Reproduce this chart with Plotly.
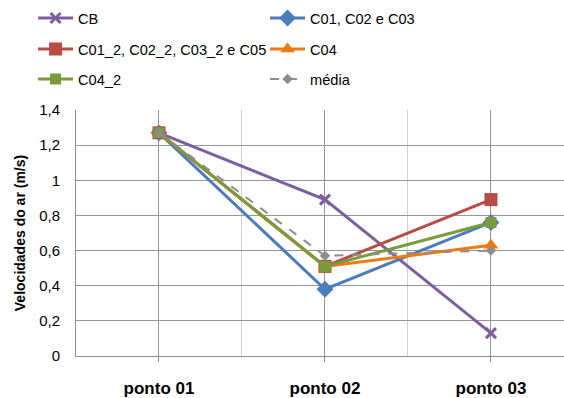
import plotly.graph_objects as go

categories = ["ponto 01", "ponto 02", "ponto 03"]
series_names = ["CB", "C01, C02 e C03", "C01_2, C02_2, C03_2 e C05", "C04", "C04_2", "média"]
cb = [1.27, 0.89, 0.13]
c01 = [1.27, 0.38, 0.76]
c01_2 = [1.27, 0.51, 0.89]
c04 = [1.27, 0.51, 0.63]
c04_2 = [1.27, 0.51, 0.76]
media = [1.27, 0.57, 0.60]
y_ticks = [0, 0.2, 0.4, 0.6, 0.8, 1.0, 1.2, 1.4]

values = [cb, c01, c01_2, c04, c04_2, media]
colors = ["#7D5FA0", "#4A7DBA", "#B94B47", "#F07A12", "#7A9A3C", "#8C8C8C"]
symbols = ["x-thin", "diamond", "square", "triangle-up", "square", "diamond"]
sizes = [10, 13, 13, 13, 11, 8]
dashes = ["solid", "solid", "solid", "solid", "solid", "dash"]
widths = [3, 3, 3, 3, 3, 2]
legends = ["legend", "legend", "legend2", "legend2", "legend3", "legend3"]

xs = list(range(len(categories)))
fig = go.Figure()
for name, vals, col, sym, sz, dsh, w, lg in zip(series_names, values, colors, symbols,
                                                 sizes, dashes, widths, legends):
    mk = dict(symbol=sym, size=sz, color=col)
    if sym == "x-thin":
        mk["line"] = dict(color=col, width=3)
    fig.add_trace(go.Scatter(
        x=xs, y=vals, name=name, mode="lines+markers",
        line=dict(color=col, width=w, dash=dsh),
        marker=mk, legend=lg,
    ))

font_main = "Liberation Sans, Arial, sans-serif"
leg_common = dict(orientation="h", entrywidth=182, entrywidthmode="pixels",
                  x=-0.088, xanchor="left", yanchor="middle", itemwidth=35,
                  font=dict(family=font_main, size=14.6, color="#000000"),
                  bgcolor="rgba(0,0,0,0)", traceorder="normal")

fig.update_layout(
    width=564, height=398,
    margin=dict(l=76, r=0, t=110, b=42),
    paper_bgcolor="white", plot_bgcolor="white",
    separators=", ",
    font=dict(family=font_main, color="#000000"),
    legend=dict(y=1.374, **leg_common),
    legend2=dict(y=1.248, **leg_common),
    legend3=dict(y=1.126, **leg_common),
    xaxis=dict(
        range=[-0.5, 2.44], tickvals=xs, ticktext=categories,
        showgrid=True, gridcolor="#959595", gridwidth=1,
        minor=dict(tickvals=[0.5, 1.5], showgrid=True, gridcolor="#d0d0d0", gridwidth=1, ticks=""),
        showline=True, linecolor="#8c8c8c", linewidth=1,
        ticks="outside", ticklen=5, tickcolor="#8c8c8c",
        tickfont=dict(family=font_main, size=17, color="#000000", weight="bold"),
        ticklabelstandoff=12, zeroline=False,
    ),
    yaxis=dict(
        range=[0, 1.4], tickvals=y_ticks,
        showgrid=True, gridcolor="#959595", gridwidth=1,
        showline=True, linecolor="#8c8c8c", linewidth=1,
        ticks="", ticklabelstandoff=12, zeroline=False,
        tickfont=dict(family=font_main, size=15, color="#000000"),
        title=dict(text="Velocidades do ar (m/s)", standoff=10,
                   font=dict(family=font_main, size=14, color="#000000", weight="bold")),
    ),
    showlegend=True,
)

fig.write_html("out.html")
